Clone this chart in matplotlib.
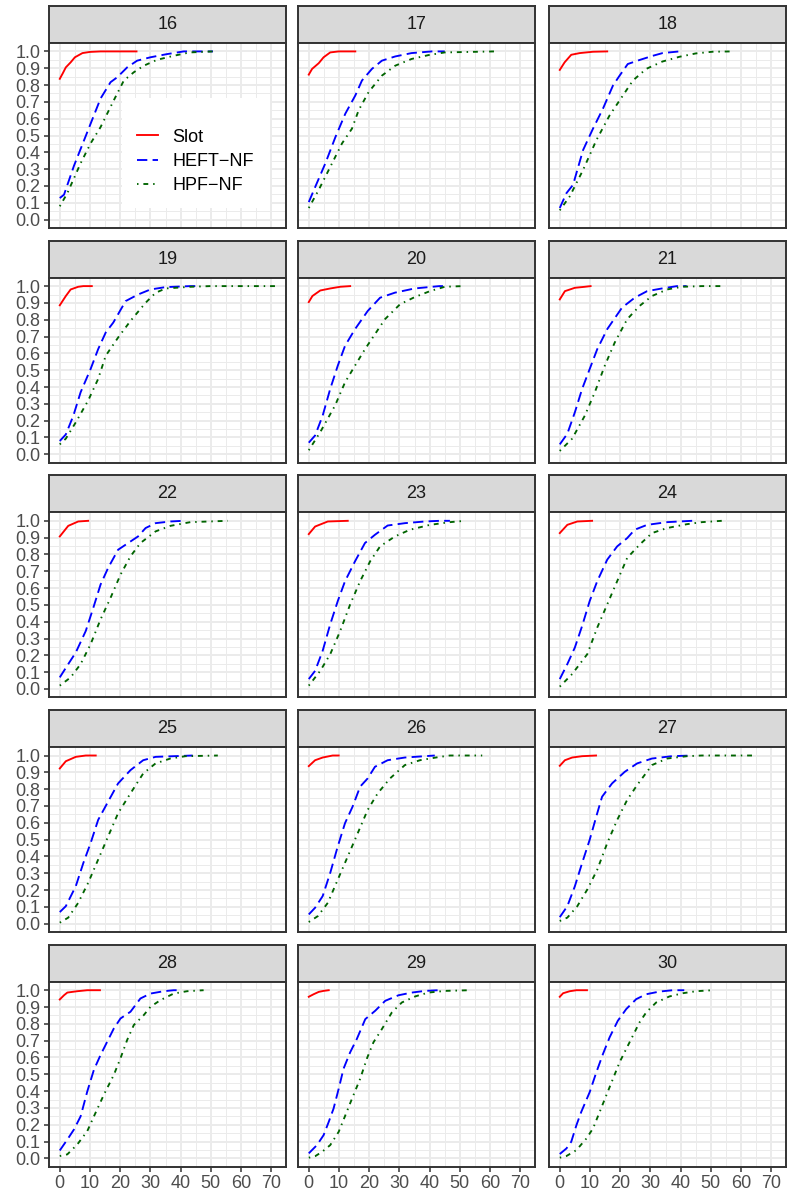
import matplotlib
matplotlib.use("Agg")
import matplotlib.pyplot as plt
from matplotlib.lines import Line2D
from matplotlib.patches import Rectangle
from matplotlib.ticker import MultipleLocator, FormatStrFormatter

plt.rcParams['font.family'] = ['Liberation Sans', 'DejaVu Sans']

# facet ids, laid out 3 per row
panels = [16, 17, 18, 19, 20, 21, 22, 23, 24, 25, 26, 27, 28, 29, 30]
labels = ["Slot", "HEFT\u2212NF", "HPF\u2212NF"]

# cumulative proportion curves, keyed by facet
slot_x = {
    16: [0, 1, 2, 3.6, 5, 7.5, 10, 13.5, 25.4],
    17: [0, 1.1, 3.3, 4.9, 7.1, 9.9, 15.4],
    18: [0, 1.6, 3.8, 6.6, 11, 15.7],
    19: [0, 2, 3.6, 6.1, 7.8, 10.6],
    20: [0, 1.2, 3.8, 7.1, 10.4, 13.7],
    21: [0, 1.7, 5, 8.3, 10.2],
    22: [0, 2.8, 6.1, 9.4],
    23: [0, 2.1, 6.3, 12.9],
    24: [0, 2.5, 5.8, 10.7],
    25: [0, 2, 5.3, 8.6, 11.9],
    26: [0, 2.1, 4.6, 7.9, 9.9],
    27: [0, 1.7, 4.1, 7.4, 12],
    28: [0, 1.4, 2.5, 5.8, 9.1, 13.3],
    29: [0, 1.6, 3.3, 4.9, 6.6],
    30: [0, 1.1, 3.3, 5.5, 9],
}
slot_y = {
    16: [0.837, 0.87, 0.905, 0.935, 0.965, 0.99, 0.997, 1.0, 1.0],
    17: [0.862, 0.896, 0.93, 0.965, 0.994, 1.0, 1.0],
    18: [0.89, 0.935, 0.98, 0.99, 0.998, 1.0],
    19: [0.886, 0.941, 0.98, 0.996, 1.0, 1.0],
    20: [0.905, 0.941, 0.974, 0.986, 0.996, 1.0],
    21: [0.921, 0.97, 0.99, 0.996, 1.0],
    22: [0.907, 0.97, 0.996, 1.0],
    23: [0.921, 0.966, 0.996, 1.0],
    24: [0.927, 0.976, 0.996, 1.0],
    25: [0.923, 0.966, 0.992, 1.0, 1.0],
    26: [0.937, 0.972, 0.988, 1.0, 1.0],
    27: [0.939, 0.972, 0.988, 0.996, 1.0],
    28: [0.945, 0.97, 0.986, 0.994, 1.0, 1.0],
    29: [0.961, 0.976, 0.99, 0.996, 1.0],
    30: [0.961, 0.982, 0.994, 1.0, 1.0],
}

heft_x = {
    16: [0, 1.4, 4.7, 8, 10.2, 13.5, 16.8, 19, 22.3, 25.6, 30, 35.5, 41, 50.7],
    17: [0, 2.2, 5.5, 8.8, 12.1, 15.4, 17.6, 20.9, 24.2, 28.6, 34, 40.7, 45],
    18: [0, 2.2, 4.4, 7.7, 11, 14.3, 17.6, 19.8, 22.5, 26.4, 30.8, 34, 39.6, 40],
    19: [0, 2, 4.5, 6.9, 10.2, 12.7, 15.2, 17.7, 21.8, 25.9, 30, 35, 43.2, 46.5],
    20: [0, 2.1, 4.6, 7.1, 9.6, 12, 15.3, 19.5, 23.6, 28.5, 35, 43.2, 46],
    21: [0, 2.5, 5, 7.4, 9.9, 12.4, 15.7, 20.6, 24.8, 28.9, 33.8, 38.8, 42],
    22: [0, 2.8, 5.3, 8.6, 11.1, 13.5, 16, 19.3, 21.8, 25.9, 28.4, 31.7, 36.6, 40.8],
    23: [0, 2.1, 4.6, 7.1, 9.6, 12, 15.3, 18.6, 21.9, 26.1, 31.8, 38.4, 43.4, 46.7],
    24: [0, 2.5, 5, 7.4, 9.9, 12.4, 15.7, 19, 22.3, 24.8, 28.9, 35.5, 43.7, 45.4],
    25: [0, 2, 5.3, 7.8, 10.2, 12.7, 16, 19.3, 23.4, 27.6, 31.7, 44],
    26: [0, 2.1, 4.6, 7.1, 9.6, 12, 14.5, 17, 19.5, 21.9, 26.1, 31.8, 38.4, 41.7],
    27: [0, 2.5, 5, 7.4, 9.9, 12.4, 14, 17.3, 21.5, 25.6, 30.5, 37.1, 43.7],
    28: [0, 2.5, 4.7, 6.9, 9.1, 11.3, 13.5, 15.7, 17.9, 20.1, 23.4, 26.7, 30, 34.4, 37.7, 39.9],
    29: [0, 2.7, 4.9, 6.6, 8.2, 9.9, 11.5, 13.7, 15.9, 18.7, 22, 25.3, 29.7, 34.1, 38.5, 42.9],
    30: [0, 2.2, 3.8, 5.5, 7.1, 9.9, 12.1, 14.3, 16.5, 19.2, 22, 25.3, 28.6, 33, 37.4, 41.2],
}
heft_y = {
    16: [0.128, 0.148, 0.32, 0.47, 0.57, 0.72, 0.817, 0.846, 0.905, 0.945, 0.965, 0.984, 1.0, 1.0],
    17: [0.104, 0.197, 0.335, 0.49, 0.63, 0.738, 0.827, 0.896, 0.945, 0.97, 0.99, 1.0, 1.0],
    18: [0.069, 0.157, 0.207, 0.413, 0.541, 0.66, 0.797, 0.856, 0.925, 0.949, 0.974, 0.99, 1.0, 1.0],
    19: [0.079, 0.118, 0.23, 0.369, 0.507, 0.625, 0.724, 0.783, 0.911, 0.95, 0.98, 0.994, 1.0, 1.0],
    20: [0.069, 0.112, 0.23, 0.389, 0.527, 0.645, 0.744, 0.852, 0.931, 0.961, 0.986, 1.0, 1.0],
    21: [0.059, 0.122, 0.25, 0.389, 0.507, 0.625, 0.744, 0.872, 0.931, 0.97, 0.986, 1.0, 1.0],
    22: [0.069, 0.148, 0.217, 0.345, 0.483, 0.621, 0.72, 0.828, 0.858, 0.907, 0.957, 0.986, 0.996, 1.0],
    23: [0.059, 0.108, 0.227, 0.385, 0.523, 0.641, 0.759, 0.868, 0.917, 0.972, 0.986, 0.996, 1.0, 1.0],
    24: [0.059, 0.148, 0.247, 0.375, 0.523, 0.641, 0.769, 0.848, 0.897, 0.947, 0.976, 0.992, 1.0, 1.0],
    25: [0.069, 0.104, 0.223, 0.361, 0.479, 0.617, 0.726, 0.834, 0.913, 0.972, 0.992, 1.0],
    26: [0.055, 0.095, 0.164, 0.302, 0.46, 0.598, 0.696, 0.815, 0.864, 0.933, 0.972, 0.988, 0.996, 1.0],
    27: [0.039, 0.104, 0.223, 0.361, 0.499, 0.657, 0.755, 0.834, 0.903, 0.953, 0.982, 0.996, 1.0],
    28: [0.047, 0.112, 0.172, 0.25, 0.398, 0.527, 0.615, 0.694, 0.773, 0.832, 0.872, 0.951, 0.98, 0.994, 1.0, 1.0],
    29: [0.03, 0.079, 0.138, 0.217, 0.296, 0.414, 0.533, 0.631, 0.71, 0.828, 0.878, 0.937, 0.97, 0.986, 0.996, 1.0],
    30: [0.026, 0.059, 0.099, 0.197, 0.276, 0.394, 0.512, 0.621, 0.72, 0.818, 0.888, 0.947, 0.976, 0.992, 1.0, 1.0],
}

hpf_x = {
    16: [0, 2.5, 6.9, 10.2, 13.5, 17.9, 21.2, 24.5, 27.8, 32.2, 37.7, 43, 50.7],
    17: [0, 3.3, 6.6, 11, 14.3, 16.5, 19.8, 24.2, 28.6, 34, 39.6, 45, 61.5],
    18: [0, 3.3, 7.7, 12.1, 16.5, 20.9, 24.2, 28.6, 34, 39.6, 45, 50.5, 57.1],
    19: [0, 2, 5.3, 9.4, 12.7, 15.2, 19.3, 23.4, 28.4, 31.7, 35, 43.2, 49.8, 71.3],
    20: [0, 3.8, 8.7, 12, 15.3, 18.6, 21.9, 25.2, 30.2, 35.1, 40.1, 45, 50.8],
    21: [0, 4.1, 8.3, 11.6, 14.9, 18.2, 22.3, 26.4, 30.5, 35.5, 40.4, 47, 53.6],
    22: [0, 3.6, 6.9, 10.2, 13.5, 16.8, 20.1, 23.4, 26.7, 31.7, 36.6, 43.2, 55.6],
    23: [0, 3.8, 7.1, 10.4, 13.7, 17, 20.3, 23.6, 28.5, 33.5, 40.1, 46.7, 51.6],
    24: [0, 4.1, 9.1, 12.4, 15.7, 19, 22.3, 26.4, 30.5, 35.5, 42.1, 47, 53.6],
    25: [0, 2.8, 6.1, 9.4, 12.7, 16, 19.3, 23.4, 27.6, 31.7, 36.6, 41.6, 52.3],
    26: [0, 3, 6.3, 9.6, 12.9, 16.2, 19.5, 22.8, 26.9, 31.8, 36.8, 43.4, 46.7, 57.4],
    27: [0, 2.5, 5.8, 9.1, 12.4, 15.7, 19, 22.3, 25.6, 30.5, 35.5, 42.1, 47, 64.4],
    28: [0, 2.5, 5.8, 9.1, 11.3, 14.6, 17.9, 20.1, 22.3, 24.5, 27.8, 30, 33.3, 37.7, 42.1, 47.6],
    29: [0, 2.2, 4.4, 7.1, 9.9, 12.1, 14.3, 17, 19.2, 21.4, 24.2, 27.5, 30.8, 35.2, 39.6, 45.1, 53.3],
    30: [0, 2.2, 5.5, 8.8, 11, 13.2, 15.4, 17.6, 19.8, 22, 24.2, 26.4, 28.6, 31.9, 36.3, 40.7, 45.1, 50.5],
}
hpf_y = {
    16: [0.079, 0.157, 0.335, 0.453, 0.55, 0.71, 0.827, 0.876, 0.915, 0.95, 0.974, 0.994, 1.0],
    17: [0.069, 0.177, 0.295, 0.453, 0.541, 0.65, 0.758, 0.856, 0.915, 0.955, 0.978, 0.994, 1.0],
    18: [0.055, 0.138, 0.295, 0.472, 0.62, 0.738, 0.827, 0.896, 0.94, 0.968, 0.988, 0.998, 1.0],
    19: [0.059, 0.093, 0.19, 0.32, 0.448, 0.586, 0.694, 0.793, 0.901, 0.96, 0.986, 0.996, 1.0, 1.0],
    20: [0.024, 0.132, 0.29, 0.428, 0.527, 0.625, 0.714, 0.803, 0.892, 0.935, 0.97, 0.996, 1.0],
    21: [0.02, 0.093, 0.23, 0.369, 0.527, 0.665, 0.803, 0.882, 0.941, 0.98, 0.996, 1.0, 1.0],
    22: [0.02, 0.069, 0.148, 0.266, 0.414, 0.542, 0.68, 0.789, 0.868, 0.937, 0.97, 0.992, 1.0],
    23: [0.02, 0.108, 0.207, 0.345, 0.503, 0.641, 0.759, 0.848, 0.907, 0.947, 0.976, 0.992, 1.0],
    24: [0.014, 0.089, 0.207, 0.365, 0.503, 0.641, 0.779, 0.858, 0.927, 0.957, 0.98, 0.992, 1.0],
    25: [0.006, 0.036, 0.124, 0.243, 0.381, 0.519, 0.657, 0.775, 0.893, 0.953, 0.982, 0.996, 1.0],
    26: [0.01, 0.045, 0.124, 0.262, 0.4, 0.538, 0.677, 0.775, 0.864, 0.943, 0.972, 0.992, 1.0, 1.0],
    27: [0.016, 0.036, 0.104, 0.203, 0.321, 0.479, 0.617, 0.736, 0.824, 0.943, 0.982, 0.996, 1.0, 1.0],
    28: [0.014, 0.024, 0.083, 0.162, 0.25, 0.379, 0.497, 0.596, 0.704, 0.793, 0.852, 0.901, 0.941, 0.98, 0.994, 1.0],
    29: [0.004, 0.014, 0.039, 0.079, 0.158, 0.256, 0.355, 0.473, 0.592, 0.69, 0.769, 0.868, 0.927, 0.963, 0.986, 0.996, 1.0],
    30: [0.004, 0.014, 0.049, 0.118, 0.178, 0.276, 0.375, 0.473, 0.572, 0.651, 0.73, 0.809, 0.868, 0.927, 0.963, 0.982, 0.994, 1.0],
}

W, H = 787, 1199
fig = plt.figure(figsize=(W / 100, H / 100), dpi=100)
fig.patch.set_facecolor("white")


def fx(px):
    return px / W


def fy(px):
    return 1 - px / H


col_left = [49, 298, 549]
panel_w = 237
strip_h = 37
panel_h = 185
row_step = 234.7

styles = [
    dict(color="#FF0000", linestyle="-"),
    dict(color="#0000FF", linestyle=(0, (5.5, 2.8))),
    dict(color="#006400", linestyle=(0, (0.8, 2.6, 2.6, 2.6))),
]
lw = 1.35
fs = 13
border = "#333333"

# shared x range as ggplot does it: data range plus 5 %
xmax = max(max(v) for v in hpf_x.values())
xpad = 0.05 * xmax

for i, p in enumerate(panels):
    r, c = divmod(i, 3)
    top = 6 + r * row_step
    left = col_left[c]

    sax = fig.add_axes([fx(left), fy(top + strip_h), fx(panel_w), strip_h / H])
    sax.set_facecolor("#D9D9D9")
    sax.set_xticks([])
    sax.set_yticks([])
    for s in sax.spines.values():
        s.set_color(border)
        s.set_linewidth(1.4)
    sax.text(0.5, 0.5, str(p), ha="center", va="center", fontsize=fs,
             color="#1A1A1A", transform=sax.transAxes)

    ax = fig.add_axes([fx(left), fy(top + strip_h + panel_h), fx(panel_w), panel_h / H])
    ax.plot(slot_x[p], slot_y[p], lw=lw, **styles[0])
    ax.plot(heft_x[p], heft_y[p], lw=lw, **styles[1])
    ax.plot(hpf_x[p], hpf_y[p], lw=lw, **styles[2])

    ax.set_xlim(-xpad, xmax + xpad)
    ax.set_ylim(-0.05, 1.05)
    ax.xaxis.set_major_locator(MultipleLocator(10))
    ax.xaxis.set_minor_locator(MultipleLocator(5))
    ax.yaxis.set_major_locator(MultipleLocator(0.1))
    ax.yaxis.set_minor_locator(MultipleLocator(0.05))
    ax.yaxis.set_major_formatter(FormatStrFormatter("%.1f"))
    ax.set_axisbelow(True)
    ax.grid(which="major", color="#EBEBEB", lw=1.4)
    ax.grid(which="minor", color="#EBEBEB", lw=0.7)
    for s in ax.spines.values():
        s.set_color(border)
        s.set_linewidth(1.4)
    ax.tick_params(which="minor", length=0)
    ax.tick_params(which="major", length=3.6, width=1.1, color=border,
                   labelsize=fs, labelcolor="#4D4D4D", pad=2.5)
    ax.tick_params(axis="x", bottom=(r == 4), labelbottom=(r == 4))
    ax.tick_params(axis="y", left=(c == 0), labelleft=(c == 0))

    if p == 16:
        ax.add_patch(Rectangle((fx(122), fy(208)), fx(148), 110 / H,
                               transform=fig.transFigure, facecolor="white",
                               edgecolor="none", zorder=4))
        handles = [Line2D([], [], lw=lw, **st) for st in styles]
        leg = ax.legend(handles, labels, loc="center left",
                        bbox_to_anchor=(fx(137), fy(161.5)),
                        bbox_transform=fig.transFigure, frameon=False,
                        fontsize=fs, borderpad=0, borderaxespad=0,
                        handlelength=1.17, handletextpad=0.78,
                        labelspacing=0.4)
        leg.set_zorder(5)

fig.savefig("out.png", dpi=100)
